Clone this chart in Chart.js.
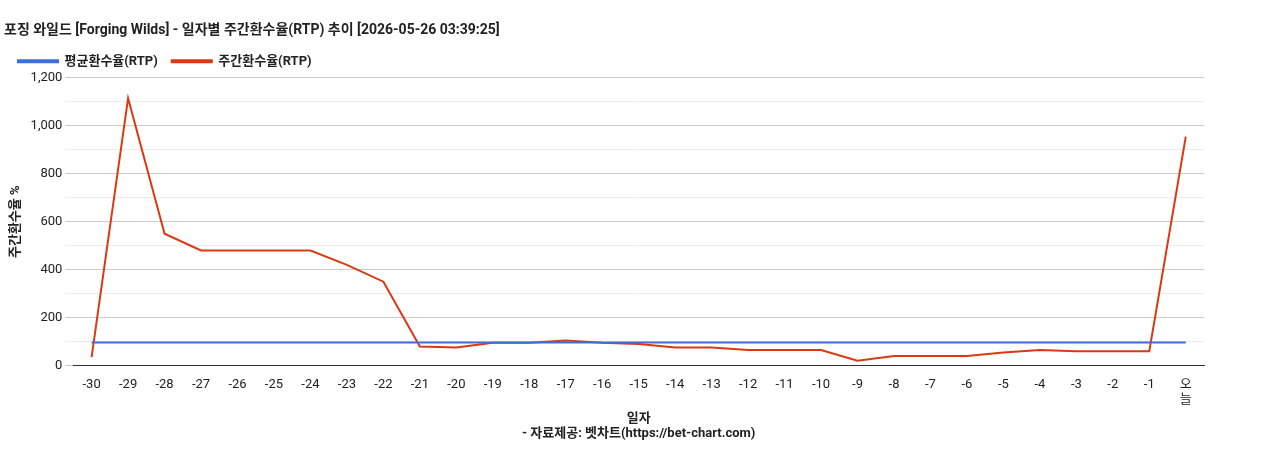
<!DOCTYPE html>
<html><head><meta charset="utf-8">
<script src="https://cdn.jsdelivr.net/npm/chart.js@4"></script>
<style>html,body{margin:0;padding:0;background:#fff}#w{width:1268px;height:450px}</style>
</head><body><div id="w"><canvas id="c"></canvas></div>
<script>
const categories = ['-30','-29','-28','-27','-26','-25','-24','-23','-22','-21','-20','-19','-18','-17','-16','-15','-14','-13','-12','-11','-10','-9','-8','-7','-6','-5','-4','-3','-2','-1','오늘'];
const avgRTP = [96,96,96,96,96,96,96,96,96,96,96,96,96,96,96,96,96,96,96,96,96,96,96,96,96,96,96,96,96,96,96];
const weeklyRTP = [35,1115,550,480,480,480,480,420,350,80,75,95,95,105,95,90,75,75,65,65,65,20,40,40,40,55,65,60,60,60,955];
const F = "Roboto,'Noto Sans CJK KR',sans-serif";
Chart.defaults.font.family = F;
Chart.defaults.color = '#222';
new Chart(document.getElementById('c'), {
  type: 'line',
  data: { labels: categories, datasets: [
    {label:'평균환수율(RTP)', data: avgRTP, borderColor:'#3c6fd8', backgroundColor:'#3c6fd8', borderWidth:2, pointRadius:0, tension:0},
    {label:'주간환수율(RTP)', data: weeklyRTP, borderColor:'#dc3912', backgroundColor:'#dc3912', borderWidth:2, pointRadius:0, tension:0}
  ]},
  options: {
    responsive:true, maintainAspectRatio:false, animation:false,
    layout:{padding:{left:4,right:64,top:18,bottom:4}},
    plugins:{
      title:{display:true, text:'포징 와일드 [Forging Wilds] - 일자별 주간환수율(RTP) 추이 [2026-05-26 03:39:25]', align:'start', font:{size:14,weight:'bold'}, padding:{top:4,bottom:2}},
      legend:{align:'start', labels:{boxWidth:40, boxHeight:2, font:{size:13,weight:'bold'}, padding:14}},
      tooltip:{enabled:false}
    },
    scales:{
      x:{offset:true, grid:{display:false}, border:{color:'#333'},
         ticks:{font:{size:13}, maxRotation:0, minRotation:0, autoSkip:false, callback:function(v,i){const l=categories[i]; return l==='오늘'?['오','늘']:l;}},
         title:{display:true, text:['일자','- 자료제공: 벳차트(https://bet-chart.com)'], font:{size:13,weight:'bold'}, padding:{top:0}}},
      y:{min:0, max:1200, grid:{color:(c)=>c.tick.value%200===0?'#cccccc':'#ececec'}, border:{display:false},
         ticks:{stepSize:100, font:{size:13}, callback:(v)=>v%200===0?v.toLocaleString('en-US'):''},
         title:{display:true, text:'주간환수율 %', font:{size:13,weight:'bold'}}}
    }
  }
});
</script></body></html>
